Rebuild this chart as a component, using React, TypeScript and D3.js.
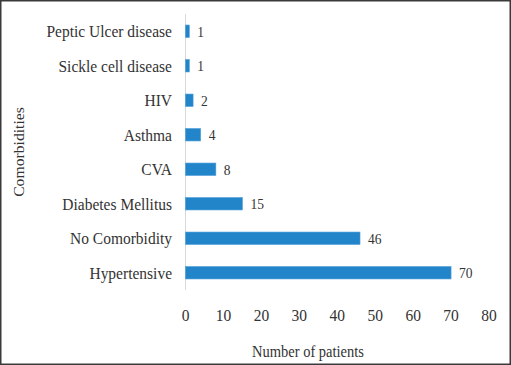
import * as d3 from "d3";

const categories = [
  "Peptic Ulcer disease",
  "Sickle cell disease",
  "HIV",
  "Asthma",
  "CVA",
  "Diabetes Mellitus",
  "No Comorbidity",
  "Hypertensive",
];
const patients = [1, 1, 2, 4, 8, 15, 46, 70];
const xTicks = [0, 10, 20, 30, 40, 50, 60, 70, 80];

const width = 511;
const height = 365;
const font = "'Liberation Serif', 'Times New Roman', serif";
const stretch = 1.12; // the source picture is a little taller than wide

export default function App() {
  const x = d3.scaleLinear().domain([0, 80]).range([185.5, 489]);
  const y = d3.scaleBand().domain(categories).range([14, 290]).paddingInner(0.64).paddingOuter(0.32);

  return (
    <svg width={width} height={height} style={{ position: "absolute", left: 0, top: 0, fontFamily: font }}>
      <rect x={0.75} y={0.75} width={width - 1.5} height={height - 1.5} fill="#fff" stroke="#3a3a3a" strokeWidth={1.5} />
      <line x1={x(0)} x2={x(0)} y1={14} y2={290} stroke="#d9d9d9" strokeWidth={1} />
      {categories.map((c, i) => {
        const cy = (y(c) ?? 0) + y.bandwidth() / 2;
        return (
          <g key={c}>
            <rect x={x(0)} y={y(c)} width={x(patients[i]) - x(0)} height={y.bandwidth()} fill="#2385c9" stroke="#4a9ed8" strokeWidth={0.6} />
            <text transform={`translate(172,${cy}) scale(1,${stretch})`} dy="0.35em" textAnchor="end" fontSize={15.5} fill="#333">{c}</text>
            <text transform={`translate(${x(patients[i]) + 8},${cy}) scale(1,${stretch})`} dy="0.35em" fontSize={13.5} fill="#333">{patients[i]}</text>
          </g>
        );
      })}
      {xTicks.map((t) => (
        <text key={t} transform={`translate(${x(t)},321) scale(1,${stretch})`} textAnchor="middle" fontSize={15.5} fill="#333">{t}</text>
      ))}
      <text transform={`translate(308,357) scale(1,${stretch})`} textAnchor="middle" fontSize={14.5} fill="#333">Number of patients</text>
      <text transform={`translate(23.5,152) rotate(-90) scale(${stretch},1)`} textAnchor="middle" fontSize={14} fill="#333">Comorbidities</text>
    </svg>
  );
}
